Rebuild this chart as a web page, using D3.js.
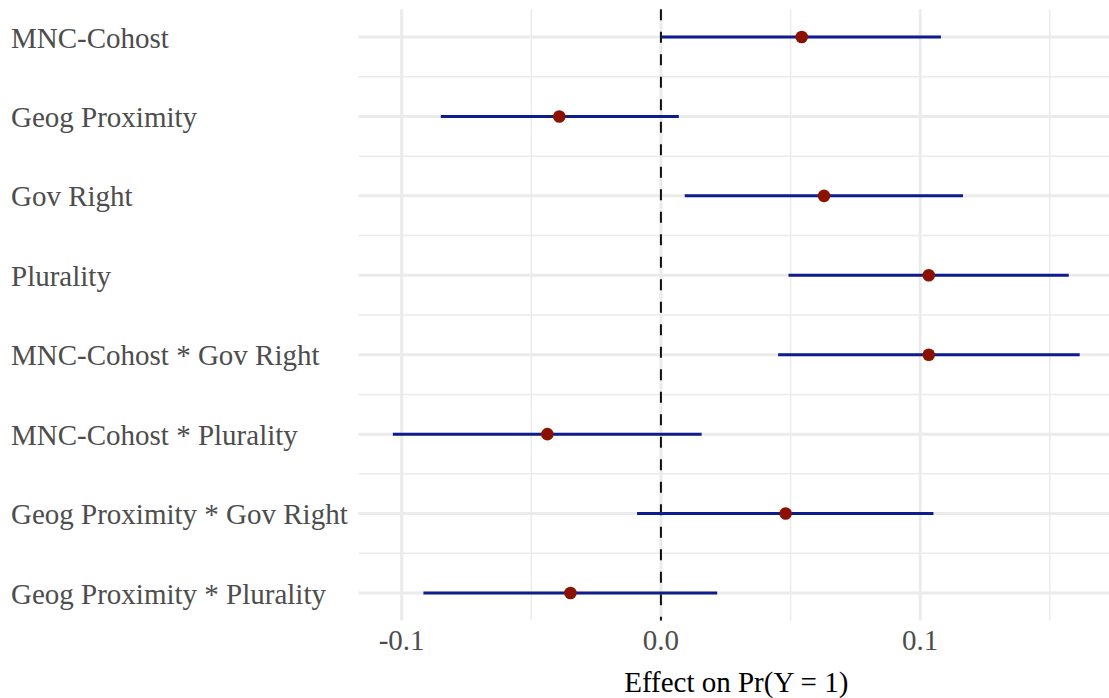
<!DOCTYPE html>
<html>
<head>
  <meta charset="utf-8">
  <style>
  body { margin: 0; background: #fff; }
  #chart svg { font-family: "Liberation Serif", "Times New Roman", serif; }
  </style>
</head>
<body>
  <script src="https://d3js.org/d3.v7.min.js"></script>
  <div id="chart"></div>
  <script>
    // coefficient estimates with confidence bounds
    const terms = [
      'MNC-Cohost',
      'Geog Proximity',
      'Gov Right',
      'Plurality',
      'MNC-Cohost * Gov Right',
      'MNC-Cohost * Plurality',
      'Geog Proximity * Gov Right',
      'Geog Proximity * Plurality'
    ];
    const estimates = [0.0543, -0.0392, 0.0629, 0.1033, 0.1033, -0.0438, 0.0481, -0.0349];
    const lower = [0.0004, -0.0849, 0.0092, 0.0492, 0.0452, -0.1034, -0.0092, -0.0916];
    const upper = [0.1080, 0.0069, 0.1165, 0.1573, 0.1615, 0.0157, 0.1051, 0.0217];
    const xTicks = [-0.1, 0.0, 0.1];
    const xMinor = [-0.05, 0.05, 0.15];

    const data = terms.map((t, i) => ({term: t, est: estimates[i], lo: lower[i], hi: upper[i]}));

    const width = 1109, height = 698;
    const panel = {left: 358.5, right: 1114, top: 9.3, bottom: 620.5};

    const svg = d3.select('#chart').append('svg')
      .attr('width', width)
      .attr('height', height);

    // continuous x, with ggplot style 5% padding
    const lo = d3.min(lower), hi = d3.max(upper);
    const pad = (hi - lo) * 0.05;
    const x = d3.scaleLinear()
      .domain([lo - pad, hi + pad])
      .range([panel.left, panel.right]);

    const y = d3.scalePoint()
      .domain(terms)
      .range([37, 593]);
    const step = y.step();

    const grid = svg.append('g').attr('class', 'grid');

    // minor horizontal lines, between the rows
    grid.selectAll('line.hminor')
      .data(terms.slice(1))
      .enter().append('line')
      .attr('x1', panel.left).attr('x2', width)
      .attr('y1', d => y(d) - step / 2).attr('y2', d => y(d) - step / 2)
      .style('stroke', '#ebebeb')
      .style('stroke-width', 1.5);

    grid.selectAll('line.vminor')
      .data(xMinor)
      .enter().append('line')
      .attr('x1', d => x(d)).attr('x2', d => x(d))
      .attr('y1', panel.top).attr('y2', panel.bottom)
      .style('stroke', '#ebebeb')
      .style('stroke-width', 1.5);

    grid.selectAll('line.hmajor')
      .data(terms)
      .enter().append('line')
      .attr('x1', panel.left).attr('x2', width)
      .attr('y1', d => y(d)).attr('y2', d => y(d))
      .style('stroke', '#ebebeb')
      .style('stroke-width', 3);

    grid.selectAll('line.vmajor')
      .data(xTicks)
      .enter().append('line')
      .attr('x1', d => x(d)).attr('x2', d => x(d))
      .attr('y1', panel.top).attr('y2', panel.bottom)
      .style('stroke', '#ebebeb')
      .style('stroke-width', 3);

    // reference line at zero
    svg.append('line')
      .attr('x1', x(0)).attr('x2', x(0))
      .attr('y1', panel.top).attr('y2', panel.bottom)
      .style('stroke', '#111')
      .style('stroke-width', 2)
      .style('stroke-dasharray', '11,11.5');

    // error bars
    svg.append('g').selectAll('line')
      .data(data)
      .enter().append('line')
      .attr('x1', d => x(d.lo)).attr('x2', d => x(d.hi))
      .attr('y1', d => y(d.term)).attr('y2', d => y(d.term))
      .style('stroke', '#0d1d8b')
      .style('stroke-width', 3);

    svg.append('g').selectAll('circle')
      .data(data)
      .enter().append('circle')
      .attr('cx', d => x(d.est))
      .attr('cy', d => y(d.term))
      .attr('r', 6.3)
      .style('fill', '#8b1200');

    // y labels, left aligned
    svg.append('g').selectAll('text')
      .data(terms)
      .enter().append('text')
      .attr('x', 11)
      .attr('y', d => y(d) + 10.5)
      .text(d => d)
      .style('font-size', '29px')
      .style('fill', '#4d4d4d');

    // x axis labels, plain hyphen as in R output
    svg.append('g').selectAll('text')
      .data(xTicks)
      .enter().append('text')
      .attr('x', d => x(d))
      .attr('y', 650)
      .attr('text-anchor', 'middle')
      .text(d => d3.format('.1f')(d).replace('\u2212', '-'))
      .style('font-size', '29px')
      .style('fill', '#4d4d4d');

    svg.append('text')
      .attr('x', (panel.left + panel.right) / 2)
      .attr('y', 692)
      .attr('text-anchor', 'middle')
      .text('Effect on Pr(Y = 1)')
      .style('font-size', '29px')
      .style('fill', '#000');
  </script>
</body>
</html>
